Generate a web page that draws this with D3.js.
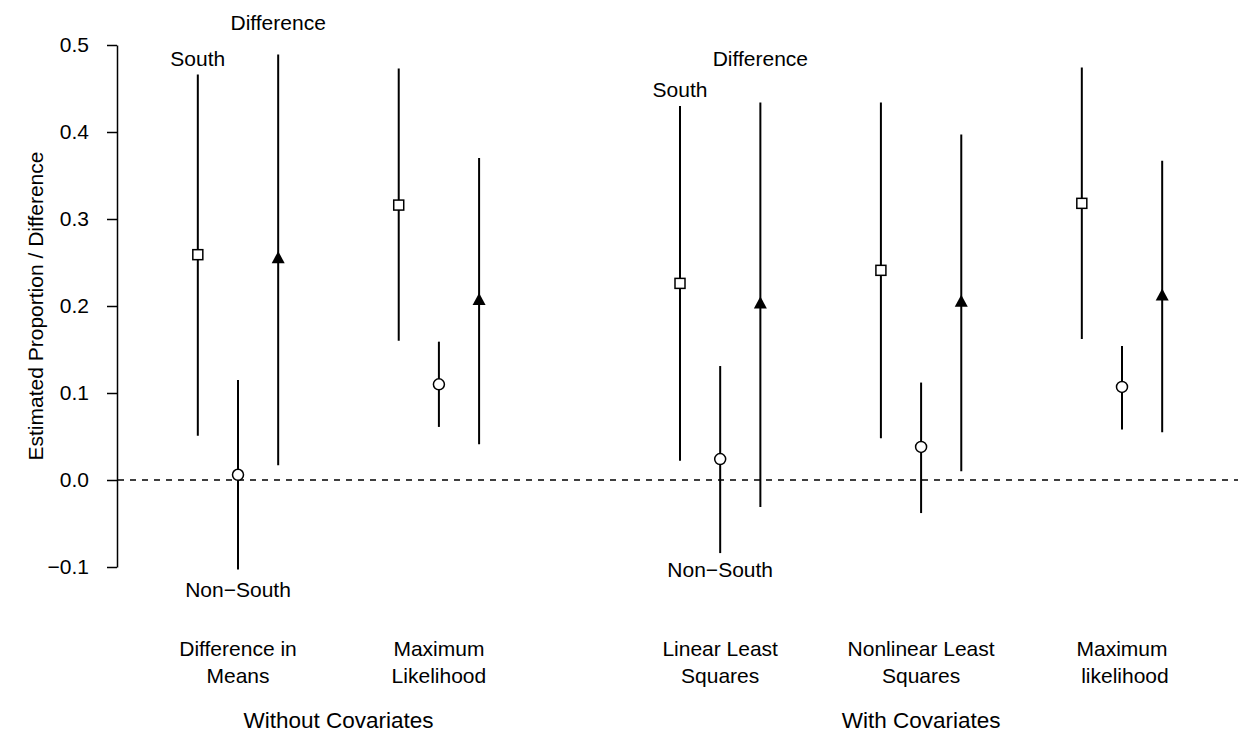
<!DOCTYPE html>
<html>
<head>
<meta charset="utf-8">
<script src="https://cdn.jsdelivr.net/npm/d3@7"></script>
<style>
  html, body { margin: 0; padding: 0; background: #fff; }
  svg { display: block; font-family: "Liberation Sans", Arial, Helvetica, sans-serif; }
</style>
</head>
<body>
<svg id="chart" width="1238" height="732"></svg>
<script>
// ---- data ----
const methods = ["Difference in\nMeans", "Maximum\nLikelihood", "Linear Least\nSquares", "Nonlinear Least\nSquares", "Maximum\n likelihood"];
const covariateSets = ["Without Covariates", "Without Covariates", "With Covariates", "With Covariates", "With Covariates"];
const seriesNames = ["South", "Non\u2212South", "Difference"];

const southEst = [0.259, 0.316, 0.226, 0.241, 0.318];
const southLo  = [0.051, 0.160, 0.022, 0.048, 0.162];
const southHi  = [0.466, 0.473, 0.430, 0.434, 0.474];

const nonSouthEst = [0.006, 0.110, 0.024, 0.038, 0.107];
const nonSouthLo  = [-0.103, 0.061, -0.084, -0.038, 0.058];
const nonSouthHi  = [0.115, 0.159, 0.131, 0.112, 0.154];

const diffEst = [0.255, 0.207, 0.203, 0.205, 0.212];
const diffLo  = [0.017, 0.041, -0.031, 0.010, 0.055];
const diffHi  = [0.489, 0.370, 0.434, 0.397, 0.367];

const yTicks = [-0.1, 0.0, 0.1, 0.2, 0.3, 0.4, 0.5];

// series labels: method index, series index, y value of label
const seriesLabelMethod = [0, 0, 0, 2, 2, 2];
const seriesLabelSeries = [0, 2, 1, 0, 2, 1];
const seriesLabelValue  = [0.484, 0.526, -0.126, 0.449, 0.484, -0.103];

// ---- layout ----
const svg = d3.select("#chart");
const setNames = Array.from(new Set(covariateSets));
const slot = methods.map((m, i) => i + 0.4 * setNames.indexOf(covariateSets[i]));
const x = d3.scaleLinear().domain([0, d3.max(slot)]).range([238, 1122]);
const offsets = [-0.2, 0, 0.2];
const y = d3.scaleLinear().domain([-0.1, 0.5]).range([567, 45]);
const FS = 21;

const est = [southEst, nonSouthEst, diffEst];
const lo = [southLo, nonSouthLo, diffLo];
const hi = [southHi, nonSouthHi, diffHi];

const rows = [];
methods.forEach((m, i) => {
  seriesNames.forEach((s, k) => {
    rows.push({ i, k, px: x(slot[i] + offsets[k]), est: est[k][i], lo: lo[k][i], hi: hi[k][i] });
  });
});

// zero reference line
svg.append("line")
  .attr("x1", 118).attr("x2", 1238)
  .attr("y1", y(0)).attr("y2", y(0))
  .attr("stroke", "#000").attr("stroke-width", 1.5)
  .attr("stroke-dasharray", "6,6");

// y axis
const yAxis = d3.axisLeft(y)
  .tickValues(yTicks)
  .tickFormat(d3.format(".1f"))
  .tickSize(10)
  .tickSizeOuter(0)
  .tickPadding(18);
const ga = svg.append("g").attr("transform", "translate(117,0)").call(yAxis);
ga.select(".domain").attr("stroke-width", 1.5);
ga.selectAll(".tick line").attr("stroke-width", 1.5);
ga.selectAll(".tick text").attr("font-size", FS).attr("fill", "#000")
  .attr("font-family", "Liberation Sans, Arial, sans-serif");

svg.append("text")
  .attr("transform", `translate(35,${(y(0.5) + y(-0.1)) / 2}) rotate(-90)`)
  .attr("text-anchor", "middle")
  .attr("dominant-baseline", "central")
  .attr("font-size", 21)
  .text("Estimated Proportion / Difference");

// error bars
svg.append("g").selectAll("line").data(rows).join("line")
  .attr("x1", d => d.px).attr("x2", d => d.px)
  .attr("y1", d => y(d.lo)).attr("y2", d => y(d.hi))
  .attr("stroke", "#000").attr("stroke-width", 2);

// markers
const mk = svg.append("g");
rows.forEach(d => {
  const cy = y(d.est);
  if (d.k === 0) {
    mk.append("rect").attr("x", d.px - 5).attr("y", cy - 5)
      .attr("width", 10).attr("height", 10)
      .attr("fill", "#fff").attr("stroke", "#000").attr("stroke-width", 1.5);
  } else if (d.k === 1) {
    mk.append("circle").attr("cx", d.px).attr("cy", cy).attr("r", 5.5)
      .attr("fill", "#fff").attr("stroke", "#000").attr("stroke-width", 1.5);
  } else {
    mk.append("path")
      .attr("d", `M${d.px},${cy - 7} L${d.px + 6.5},${cy + 5} L${d.px - 6.5},${cy + 5} Z`)
      .attr("fill", "#000");
  }
});

// series labels
svg.append("g").selectAll("text").data(seriesLabelMethod.map((m, j) => ({ m, s: seriesLabelSeries[j], v: seriesLabelValue[j] })))
  .join("text")
  .attr("x", d => x(slot[d.m] + offsets[d.s]))
  .attr("y", d => y(d.v))
  .attr("text-anchor", "middle")
  .attr("dominant-baseline", "central")
  .attr("font-size", FS)
  .text(d => seriesNames[d.s]);

// method labels
methods.forEach((m, i) => {
  const t = svg.append("text")
    .attr("x", x(slot[i]))
    .attr("text-anchor", "middle")
    .attr("font-size", FS)
    .attr("xml:space", "preserve")
    .style("white-space", "pre");
  m.split("\n").forEach((line, li) => {
    t.append("tspan").attr("x", x(slot[i])).attr("y", 656 + li * 27).text(line);
  });
});

// covariate set titles
setNames.forEach(s => {
  const idx = slot.filter((v, i) => covariateSets[i] === s);
  svg.append("text")
    .attr("x", x(d3.mean(idx)))
    .attr("y", 728)
    .attr("text-anchor", "middle")
    .attr("font-size", 22.5)
    .text(s);
});
</script>
</body>
</html>
